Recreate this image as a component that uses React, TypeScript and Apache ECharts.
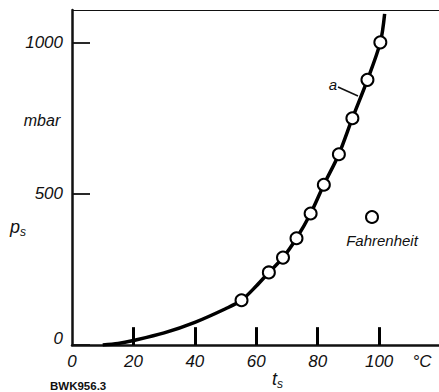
import React, { useEffect, useRef } from "react";
import * as echarts from "echarts";

const xTickStep = 20;
const yTickStep = 500;
const xMax = 119.5;
const yMax = 1108;
const xTickValues = [20, 40, 60, 80, 100];
const xTickHeight = 59; // mbar, ~18px inward ticks

// smooth curve (°C, mbar)
const curveT = [10, 15, 20, 30, 40, 50, 55.2, 60, 64.1, 68.7, 73.1, 77.7, 82, 86.9, 91.3, 96.2, 100.4, 101.8];
const curveP = [0, 5, 15, 40, 75, 120, 148, 195, 240, 289, 353, 435, 530, 631, 750, 877, 1001, 1095];

// measured points (Fahrenheit)
const pointT = [55.2, 64.1, 68.7, 73.1, 77.7, 82.0, 86.9, 91.3, 96.2, 100.4];
const pointP = [148, 240, 289, 353, 435, 530, 631, 750, 877, 1001];

const FONT = "'Liberation Sans', Arial, sans-serif";

export default function App() {
  const ref = useRef<HTMLDivElement>(null);
  useEffect(() => {
    if (!ref.current) return;
    const chart = echarts.init(ref.current, undefined, { renderer: "svg" });
    const labelStyle = {
      color: "#111",
      fontFamily: FONT,
      fontStyle: "italic" as const,
      fontSize: 17,
    };
    chart.setOption({
      animation: false,
      backgroundColor: "#fff",
      grid: { left: 72, top: 10, right: 0, bottom: 47 },
      xAxis: {
        type: "value",
        min: 0,
        max: xMax,
        interval: xTickStep,
        axisLine: { show: true, onZero: false, lineStyle: { color: "#111", width: 2.5 } },
        axisTick: { show: false },
        axisLabel: { ...labelStyle, margin: 8, showMaxLabel: false },
        splitLine: { show: false },
      },
      yAxis: {
        type: "value",
        min: 0,
        max: yMax,
        interval: yTickStep,
        axisLine: { show: true, onZero: false, lineStyle: { color: "#111", width: 2.5 } },
        axisTick: {
          show: true,
          inside: true,
          length: 18,
          lineStyle: { color: "#111", width: 1.8 },
        },
        axisLabel: {
          ...labelStyle,
          margin: 9,
          showMaxLabel: false,
          formatter: (v: number) => (v === 0 ? "{r|0}" : String(v)),
          rich: {
            r: { ...labelStyle, padding: [0, 0, 14, 0] },
          },
        },
        splitLine: { show: false },
      },
      series: [
        {
          type: "line",
          data: curveT.map((t, i) => [t, curveP[i]]),
          smooth: 0.3,
          showSymbol: false,
          symbol: "none",
          lineStyle: { color: "#000", width: 3.5 },
          z: 2,
        },
        {
          type: "scatter",
          data: pointT.map((t, i) => [t, pointP[i]]),
          symbol: "circle",
          symbolSize: 12,
          itemStyle: { color: "#fff", borderColor: "#000", borderWidth: 2, opacity: 1 },
          z: 3,
          markLine: {
            silent: true,
            symbol: ["none", "none"],
            label: { show: false },
            lineStyle: { color: "#000", width: 3, type: "solid", opacity: 1 },
            data: xTickValues.map((v) => [
              { coord: [v, 0] },
              { coord: [v, xTickHeight] },
            ]),
          },
        },
      ],
      graphic: [
        { type: "line", shape: { x1: 72, y1: 10.5, x2: 439, y2: 10.5 }, style: { stroke: "#111", lineWidth: 1.2 } },
        { type: "text", x: 42, y: 120, style: { text: "mbar", ...labelStyle, fontSize: 16, textAlign: "center", textVerticalAlign: "middle", fill: "#111" } },
        {
          type: "text",
          x: 10,
          y: 216,
          style: {
            text: "{m|p}{s|s}",
            rich: {
              m: { fontFamily: FONT, fontStyle: "italic", fontSize: 18, fill: "#111" },
              s: { fontFamily: FONT, fontStyle: "italic", fontSize: 12, fill: "#111", padding: [10, 0, 0, 0] },
            },
            fill: "#111",
          },
        },
        {
          type: "text",
          x: 272,
          y: 368,
          style: {
            text: "{m|t}{s|s}",
            rich: {
              m: { fontFamily: FONT, fontStyle: "italic", fontSize: 18, fill: "#111" },
              s: { fontFamily: FONT, fontStyle: "italic", fontSize: 12, fill: "#111", padding: [10, 0, 0, 0] },
            },
            fill: "#111",
          },
        },
        { type: "text", x: 422, y: 361, style: { text: "°C", ...labelStyle, textAlign: "center", textVerticalAlign: "middle", fill: "#111" } },
        { type: "text", x: 50, y: 386, style: { text: "BWK956.3", fontFamily: FONT, fontWeight: "bold", fontSize: 11.5, textAlign: "left", textVerticalAlign: "middle", fill: "#111" } },
        { type: "text", x: 333, y: 84, style: { text: "a", ...labelStyle, fontSize: 15, textAlign: "center", textVerticalAlign: "middle", fill: "#111" } },
        { type: "line", shape: { x1: 338, y1: 87, x2: 358, y2: 96 }, style: { stroke: "#111", lineWidth: 1.5 } },
        { type: "circle", shape: { cx: 372, cy: 217, r: 6 }, style: { fill: "#fff", stroke: "#000", lineWidth: 2 } },
        { type: "text", x: 382, y: 240, style: { text: "Fahrenheit", ...labelStyle, fontSize: 15, textAlign: "center", textVerticalAlign: "middle", fill: "#111" } },
      ],
    });
    return () => chart.dispose();
  }, []);
  return (
    <div
      ref={ref}
      style={{ position: "fixed", left: 0, top: 0, width: 439, height: 392, background: "#fff" }}
    />
  );
}
